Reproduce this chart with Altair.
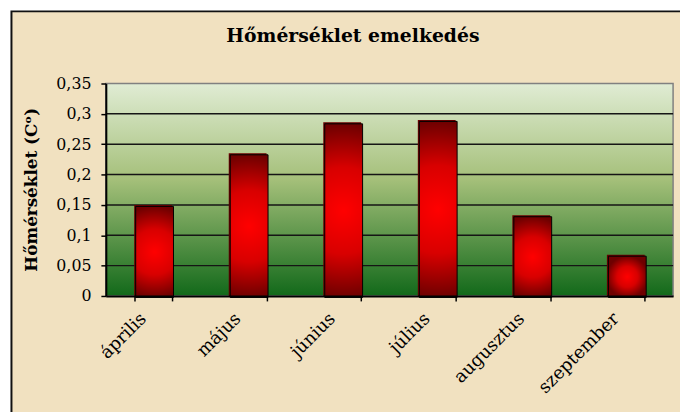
import altair as alt
import pandas as pd

months = ["április", "május", "június", "július", "augusztus", "szeptember"]
values = [0.15, 0.235, 0.286, 0.29, 0.133, 0.068]
y_ticks = [0, 0.05, 0.1, 0.15, 0.2, 0.25, 0.3, 0.35]
grid_values = [0.05, 0.1, 0.15, 0.2, 0.25, 0.3]
title_text = "Hőmérséklet emelkedés"
y_title = "Hőmérséklet (Cᵒ)"

W, H = 574, 215
FONT = "DejaVu Serif"

df = pd.DataFrame({"month": months, "value": values})
grid_df = pd.DataFrame({"value": grid_values})
one = pd.DataFrame({"a": [0]})

xscale = alt.Scale(domain=months, paddingInner=0.6, paddingOuter=0.3)
yscale = alt.Scale(domain=[0, 0.35], nice=False, zero=True)

frame = alt.Chart(one).mark_rect(fill="#f1e1c0", stroke="#111111", strokeWidth=2).encode(
    x=alt.value(-95.5), x2=alt.value(W + 40), y=alt.value(-73), y2=alt.value(H + 150)
)

green = alt.LinearGradient(
    gradient="linear",
    stops=[
        alt.GradientStop(color="#e0ecd4", offset=0),
        alt.GradientStop(color="#a5c07a", offset=0.45),
        alt.GradientStop(color="#12691a", offset=1),
    ],
    x1=0, x2=0, y1=0, y2=1,
)
plotbg = alt.Chart(one).mark_rect(fill=green, stroke="#808080", strokeWidth=1.5).encode(
    x=alt.value(0), x2=alt.value(W), y=alt.value(0), y2=alt.value(H)
)

red = alt.RadialGradient(
    gradient="radial",
    stops=[
        alt.GradientStop(color="#ff0000", offset=0),
        alt.GradientStop(color="#d80000", offset=0.5),
        alt.GradientStop(color="#6e0000", offset=1),
    ],
    x1=0.5, y1=0.5, r1=0, x2=0.5, y2=0.5, r2=0.5,
)

xaxis = alt.Axis(
    title=None, domainColor="#000000", domainWidth=2, tickColor="#000000", tickWidth=1.5,
    tickSize=5, tickBand="extent", labelAngle=-45, labelAlign="right", labelBaseline="middle",
    labelFont=FONT, labelFontSize=18, labelColor="#000000", labelOffset=-10, labelPadding=15,
    zindex=1,
)
yaxis = alt.Axis(
    title=None, values=y_ticks, grid=False, domainColor="#000000", domainWidth=2,
    tickColor="#000000", tickWidth=1.5, tickSize=5, labelFont=FONT, labelFontSize=16,
    labelColor="#000000", labelPadding=10,
    labelExpr="replace(format(datum.value, '.2~f'), '.', ',')", zindex=1,
)

grid = alt.Chart(grid_df).mark_rule(color="#151515", strokeWidth=1.5).encode(
    y=alt.Y("value:Q", scale=yscale, axis=yaxis)
)

bars_dark = alt.Chart(df).mark_bar(fill="#6a0000").encode(
    x=alt.X("month:N", scale=xscale, sort=months, axis=xaxis),
    y=alt.Y("value:Q", scale=yscale, axis=yaxis),
)
bars = alt.Chart(df).mark_bar(fill=red, stroke="#000000", strokeWidth=1, xOffset=1.5, yOffset=1.5).encode(
    x=alt.X("month:N", scale=xscale, sort=months, axis=xaxis),
    y=alt.Y("value:Q", scale=yscale, axis=yaxis),
)

title = alt.Chart(one).mark_text(
    text=title_text, font=FONT, fontSize=19, fontWeight="bold", color="#000000",
    align="center", baseline="middle",
).encode(x=alt.value(357 - 107), y=alt.value(34 - 82))

ytitle = alt.Chart(one).mark_text(
    text=y_title, font=FONT, fontSize=17, fontWeight="bold", color="#000000",
    align="center", baseline="middle", angle=270,
).encode(x=alt.value(32 - 107), y=alt.value(H / 2))

chart = alt.layer(frame, plotbg, grid, bars_dark, bars, title, ytitle).properties(
    width=W, height=H,
    autosize=alt.AutoSizeParams(type="none"),
    padding={"left": 99, "top": 74, "right": 7, "bottom": 115},
    background="white",
).configure_view(strokeWidth=0)

chart.save("out.html", embed_options={"renderer": "svg", "actions": False})
